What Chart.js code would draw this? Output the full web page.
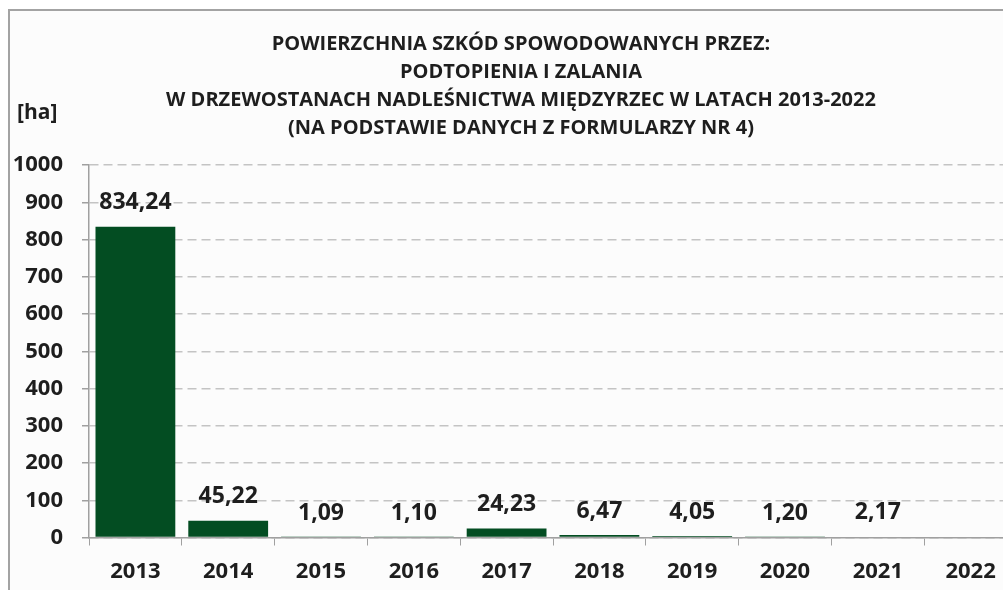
<!DOCTYPE html>
<html lang="pl">
<head>
<meta charset="utf-8">
<title>Podtopienia i zalania – Nadleśnictwo Międzyrzec</title>
<script src="https://cdn.jsdelivr.net/npm/chart.js@4/dist/chart.umd.min.js"></script>
<style>
  html, body { margin: 0; padding: 0; background: #ffffff; overflow: hidden; }
  #page { position: relative; width: 1003px; height: 590px; overflow: hidden; }
  #frame {
    position: absolute; left: 8px; top: 9px; width: 1100px; height: 700px;
    border: 2px solid #a3a3a3; background: #fcfcfc;
  }
  #wrap { position: absolute; left: 0; top: 0; width: 1040px; height: 590px; }
</style>
</head>
<body>
<div id="page">
  <div id="frame"></div>
  <div id="wrap"><canvas id="damageChart" width="1040" height="590"></canvas></div>
</div>
<script>
// years and damaged area [ha]
const years = ['2013', '2014', '2015', '2016', '2017', '2018', '2019', '2020', '2021', '2022'];
const areaHa = [834.24, 45.22, 1.09, 1.10, 24.23, 6.47, 4.05, 1.20, 2.17, null];

const titleLines = [
  'POWIERZCHNIA SZKÓD SPOWODOWANYCH PRZEZ:',
  'PODTOPIENIA I ZALANIA',
  'W DRZEWOSTANACH NADLEŚNICTWA MIĘDZYRZEC W LATACH 2013-2022',
  '(NA PODSTAWIE DANYCH Z FORMULARZY NR 4)'
];
const unitLabel = '[ha]';

const FONT = '"Open Sans", "DejaVu Sans", sans-serif';
const TEXT = '#1e1e1e';
const BAR = '#034d22';

// number like 834,24
function fmt(v) {
  return v.toFixed(2).replace('.', ',');
}

// title block + unit label, drawn straight on the canvas
const headerPlugin = {
  id: 'header',
  afterDraw(chart) {
    const ctx = chart.ctx;
    ctx.save();
    ctx.fillStyle = TEXT;
    ctx.textAlign = 'center';
    ctx.textBaseline = 'middle';
    ctx.font = 'bold 20px ' + FONT;
    const ys = [44, 72, 100, 128];
    titleLines.forEach((line, i) => ctx.fillText(line, 521, ys[i]));
    ctx.textAlign = 'left';
    ctx.font = 'bold 21px ' + FONT;
    ctx.fillText(unitLabel, 17, 113);
    ctx.restore();
  }
};

// value above each bar
const valueLabels = {
  id: 'valueLabels',
  afterDatasetsDraw(chart) {
    const ctx = chart.ctx;
    const meta = chart.getDatasetMeta(0);
    const data = chart.data.datasets[0].data;
    ctx.save();
    ctx.fillStyle = TEXT;
    ctx.font = 'bold 23px ' + FONT;
    ctx.textAlign = 'center';
    ctx.textBaseline = 'middle';
    meta.data.forEach((bar, i) => {
      if (data[i] == null) return;
      ctx.fillText(fmt(data[i]), bar.x, bar.y - 24);
    });
    ctx.restore();
  }
};

const ctx = document.getElementById('damageChart').getContext('2d');
new Chart(ctx, {
  type: 'bar',
  data: {
    labels: years,
    datasets: [{
      label: 'Powierzchnia szkód [ha]',
      data: areaHa,
      backgroundColor: BAR,
      borderWidth: 0,
      categoryPercentage: 1.0,
      barPercentage: 0.86
    }]
  },
  options: {
    responsive: false,
    animation: false,
    events: [],
    layout: { padding: { top: 165, right: 23, bottom: 0, left: 0 } },
    plugins: {
      legend: { display: false },
      title: { display: false },
      tooltip: { enabled: false }
    },
    scales: {
      x: {
        offset: true,
        grid: { drawOnChartArea: false, offset: true, tickLength: 8, color: '#a0a0a0', tickColor: '#a0a0a0' },
        border: { color: '#a0a0a0', width: 1.5 },
        ticks: { color: TEXT, padding: 13, font: { family: FONT, size: 22, weight: 'bold' }, maxRotation: 0 },
        afterFit(scale) { scale.height = 52.5; }
      },
      y: {
        min: 0,
        max: 1000,
        ticks: {
          stepSize: 100,
          color: TEXT,
          padding: 19,
          font: { family: FONT, size: 22, weight: 'bold' },
          callback: (v) => String(v)
        },
        grid: { color: '#c4c4c4', lineWidth: 1.5, tickLength: 7, tickColor: '#a0a0a0', tickBorderDash: [] },
        border: { color: '#a0a0a0', width: 1.5, dash: [9, 5] },
        afterFit(scale) { scale.width = 89; }
      }
    }
  },
  plugins: [headerPlugin, valueLabels]
});
</script>
</body>
</html>
